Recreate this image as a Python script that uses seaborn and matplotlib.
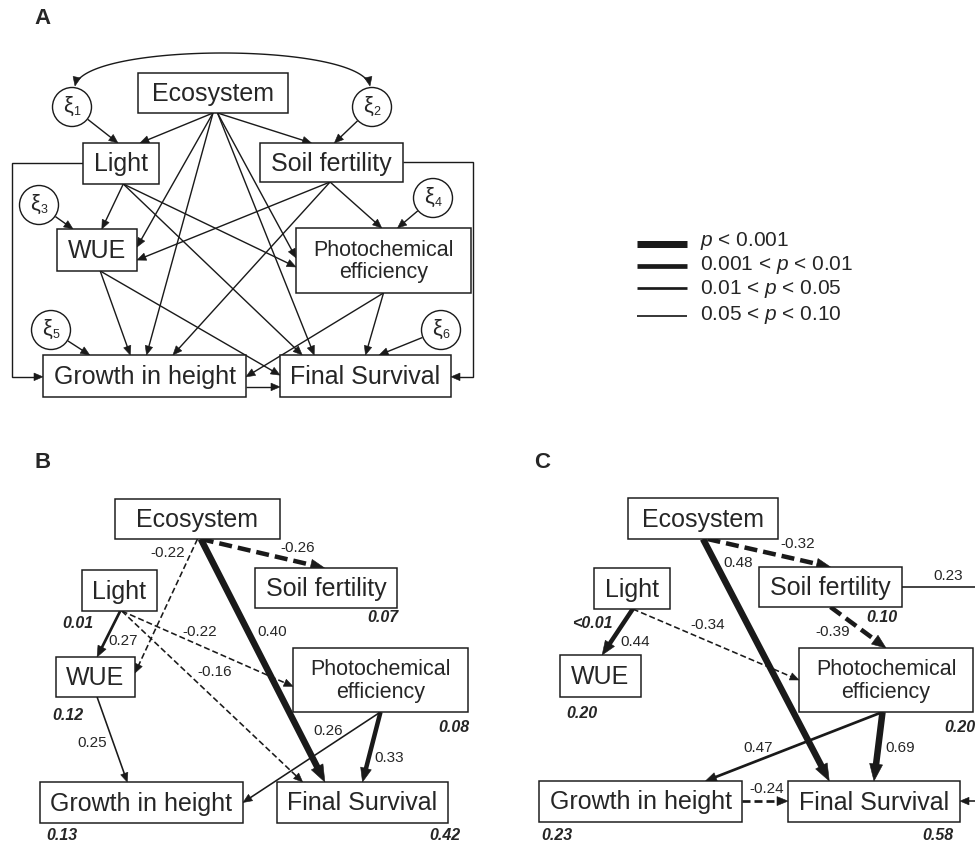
import numpy as np
import pandas as pd
import matplotlib
matplotlib.use("Agg")
import matplotlib.pyplot as plt
import seaborn as sns
from matplotlib.patches import Rectangle, Circle, Polygon

# ------------------------------------------------------------------ data
NODES = ["Ecosystem", "Light", "Soil fertility", "WUE",
         "Photochemical\nefficiency", "Growth in height", "Final Survival"]
ECO, LIG, SOI, WUE, PHO, GRO, FSU = NODES

LEGEND_LABELS = ["$p$ < 0.001", "0.001 < $p$ < 0.01",
                 "0.01 < $p$ < 0.05", "0.05 < $p$ < 0.10"]

# Panel A: hypothesised model
A_FROM = [ECO, ECO, ECO, ECO, ECO, ECO, LIG, LIG, LIG, SOI, SOI, SOI, WUE, WUE, PHO, PHO, GRO]
A_TO = [LIG, SOI, WUE, GRO, PHO, FSU, WUE, PHO, FSU, WUE, GRO, PHO, GRO, FSU, GRO, FSU, FSU]
A_LOOP_FROM = [LIG, SOI]
A_LOOP_TO = [GRO, FSU]
ERR_INDEX = ["1", "2", "3", "4", "5", "6"]
ERR_TARGET = [LIG, SOI, WUE, PHO, GRO, FSU]

# Panel B: fitted model, site 1
B_FROM = [ECO, ECO, ECO, LIG, LIG, LIG, WUE, PHO, PHO]
B_TO = [SOI, WUE, FSU, WUE, PHO, FSU, GRO, GRO, FSU]
B_COEF = [-0.26, -0.22, 0.40, 0.27, -0.22, -0.16, 0.25, 0.26, 0.33]
B_SIG = [1, 3, 0, 2, 3, 3, 3, 3, 1]          # index into LEGEND_LABELS
B_R2 = ["", "0.01", "0.07", "0.12", "0.08", "0.13", "0.42"]

# Panel C: fitted model, site 2
C_FROM = [ECO, ECO, LIG, LIG, SOI, PHO, PHO, GRO, SOI]
C_TO = [SOI, FSU, WUE, PHO, PHO, GRO, FSU, FSU, FSU]
C_COEF = [-0.32, 0.48, 0.44, -0.34, -0.39, 0.47, 0.69, -0.24, 0.23]
C_SIG = [1, 0, 1, 3, 1, 2, 0, 2, 3]
C_R2 = ["", "<0.01", "0.10", "0.20", "0.20", "0.23", "0.58"]

# ------------------------------------------------------------------ layout (pixels)
BOX = {
    "A": {ECO: (138, 73, 288, 113), LIG: (83, 143, 159, 184), SOI: (260, 143, 403, 182),
          WUE: (57, 229, 137, 271), PHO: (296, 228, 471, 293),
          GRO: (43, 355, 246, 397), FSU: (280, 355, 451, 397)},
    "B": {ECO: (115, 499, 280, 539), LIG: (82, 570, 157, 611), SOI: (255, 568, 397, 608),
          WUE: (56, 657, 135, 697), PHO: (293, 648, 468, 712),
          GRO: (40, 782, 243, 823), FSU: (277, 782, 448, 823)},
    "C": {ECO: (628, 498, 778, 539), LIG: (594, 568, 670, 609), SOI: (759, 567, 902, 607),
          WUE: (560, 655, 641, 697), PHO: (799, 648, 973, 712),
          GRO: (539, 781, 742, 822), FSU: (788, 781, 960, 822)},
}
NODE_FS = {ECO: 18, LIG: 18, SOI: 18, WUE: 18, PHO: 15.5, GRO: 18, FSU: 18}

A_ANCH = [(0.50, 1, 0.75, 0), (0.53, 1, 0.36, 0), (0.50, 1, 1, 0.43), (0.50, 1, 0.51, 0),
          (0.53, 1, 0, 0.46), (0.53, 1, 0.20, 0), (0.53, 1, 0.56, 0), (0.53, 1, 0, 0.60),
          (0.53, 1, 0.13, 0), (0.49, 1, 1, 0.74), (0.49, 1, 0.64, 0), (0.49, 1, 0.49, 0),
          (0.54, 1, 0.43, 0), (0.54, 1, 0, 0.48), (0.50, 1, 1, 0.52), (0.50, 1, 0.50, 0),
          (1, 0.76, 0, 0.76)]
A_LOOP_ANCH = [(0, 0.49, 0, 0.52, 12), (1, 0.49, 1, 0.52, 473)]
ERR_POS = [(72, 107), (372, 107), (39, 205), (433, 198), (51, 330), (441, 330)]
ERR_ANCH = [0.46, 0.52, 0.20, 0.58, 0.23, 0.58]

B_ANCH = [(0.52, 1, 0.49, 0), (0.50, 1, 1, 0.40), (0.52, 1, 0.28, 0), (0.51, 1, 0.52, 0),
          (0.53, 1, 0, 0.60), (0.53, 1, 0.15, 0), (0.52, 1, 0.43, 0), (0.50, 1, 1, 0.50),
          (0.50, 1, 0.50, 0)]
B_LAB = [(298, 548), (168, 553), (272, 632), (123, 641), (200, 632), (215, 672),
         (92, 743), (328, 731), (389, 758)]
B_R2_POS = [None, (78, 623), (383, 618), (68, 715), (454, 727), (62, 836), (445, 836)]

C_ANCH = [(0.53, 1, 0.50, 0), (0.50, 1, 0.24, 0), (0.51, 1, 0.52, 0), (0.51, 1, 0, 0.50),
          (0.50, 1, 0.50, 0), (0.48, 1, 0.82, 0), (0.48, 1, 0.50, 0), (1, 0.49, 0, 0.49),
          (1, 0.49, 1, 0.49)]
C_LOOP_X = 990
C_LAB = [(798, 544), (738, 563), (635, 642), (708, 625), (833, 632), (758, 748),
         (900, 748), (767, 789), (948, 576)]
C_R2_POS = [None, (592, 623), (882, 617), (582, 713), (960, 727), (557, 836), (938, 836)]

LW_PX = [6.5, 4.5, 2.7, 1.6]
HEAD = [(17, 6.5), (14, 5.5), (11, 4.5), (9, 3.8)]
DASH = [(14, 6), (13, 6), (8, 4), (6, 3)]
LEG_LINE_Y = [244, 266, 288, 316]
LEG_TEXT_Y = [241, 265, 289, 315]
LEG_LW = [7, 4.7, 2.7, 1.7]

# ------------------------------------------------------------------ style
sns.set_theme(style="white")
plt.rcParams['font.family'] = ['Liberation Sans', 'DejaVu Sans']
plt.rcParams['mathtext.fontset'] = 'custom'
plt.rcParams['mathtext.rm'] = 'Liberation Sans'
plt.rcParams['mathtext.it'] = 'Liberation Sans:italic'
PT = 0.72  # points per pixel at 100 dpi

fig = plt.figure(figsize=(9.75, 8.46), dpi=100)
ax = fig.add_axes([0, 0, 1, 1])
ax.set_xlim(0, 975)
ax.set_ylim(846, 0)
ax.axis("off")


def anchor(panel, node, fx, fy):
    x0, y0, x1, y1 = BOX[panel][node]
    return np.array([x0 + fx * (x1 - x0), y0 + fy * (y1 - y0)], float)


def head(tip, u, hl, hw):
    n = np.array([-u[1], u[0]])
    base = tip - u * hl
    ax.add_patch(Polygon([tip, base + n * hw, base - n * hw], closed=True,
                         fc='k', ec='k', lw=0.4, zorder=4))
    return base


def arrow(points, lw_px, hl, hw, dashed=False, dash=(6, 3)):
    pts = [np.array(p, float) for p in points]
    d = pts[-1] - pts[-2]
    u = d / np.hypot(*d)
    base = head(pts[-1], u, hl, hw)
    pts[-1] = base + u * 1.0
    xs = [p[0] for p in pts]
    ys = [p[1] for p in pts]
    lw = lw_px * PT
    if dashed:
        ls = (0, (dash[0] * PT / lw, dash[1] * PT / lw))
    else:
        ls = '-'
    ax.plot(xs, ys, color='k', lw=lw, ls=ls, solid_capstyle='butt',
            dash_capstyle='butt', solid_joinstyle='miter', zorder=3)


def draw_boxes(panel):
    for name in NODES:
        x0, y0, x1, y1 = BOX[panel][name]
        ax.add_patch(Rectangle((x0, y0), x1 - x0, y1 - y0, fc='white', ec='k',
                               lw=1.5 * PT, zorder=5, clip_on=True))
        ax.text((x0 + x1) / 2, (y0 + y1) / 2 + 1, name, ha='center', va='center',
                fontsize=NODE_FS[name], multialignment='center', linespacing=1.1,
                zorder=6, clip_on=True)


# ------------------------------------------------------------------ panel A
ax.text(34, 18, "A", fontsize=16, fontweight='bold', ha='left', va='center')
for f, t, (sx, sy, tx, ty) in zip(A_FROM, A_TO, A_ANCH):
    arrow([anchor("A", f, sx, sy), anchor("A", t, tx, ty)], 1.4, 9, 3.8)
for f, t, (sx, sy, tx, ty, rx) in zip(A_LOOP_FROM, A_LOOP_TO, A_LOOP_ANCH):
    p0 = anchor("A", f, sx, sy)
    p1 = anchor("A", t, tx, ty)
    arrow([p0, (rx, p0[1]), (rx, p1[1]), p1], 1.4, 9, 3.8)
for idx, tgt, (cx, cy), fx in zip(ERR_INDEX, ERR_TARGET, ERR_POS, ERR_ANCH):
    ax.add_patch(Circle((cx, cy), 19.5, fc='white', ec='k', lw=1.4 * PT, zorder=5))
    ax.text(cx - 4, cy - 1, "ξ", fontsize=16, ha='center', va='center', zorder=6)
    ax.text(cx + 5, cy + 5, idx, fontsize=9, ha='center', va='center', zorder=6)
    tgt_pt = anchor("A", tgt, fx, 0)
    d = tgt_pt - np.array([cx, cy])
    start = np.array([cx, cy]) + d / np.hypot(*d) * 20
    arrow([start, tgt_pt], 1.4, 9, 3.8)

# covariance arc between xi1 and xi2
P0, P1, P2, P3 = np.array([75, 86.]), np.array([84, 42.]), np.array([361, 42.]), np.array([370, 86.])
ts = np.linspace(0, 1, 80)
curve = (((1 - ts) ** 3)[:, None] * P0 + (3 * (1 - ts) ** 2 * ts)[:, None] * P1
         + (3 * (1 - ts) * ts ** 2)[:, None] * P2 + (ts ** 3)[:, None] * P3)
head(P0, (P0 - P1) / np.hypot(*(P0 - P1)), 9, 3.8)
head(P3, (P3 - P2) / np.hypot(*(P3 - P2)), 9, 3.8)
ax.plot(curve[4:-4, 0], curve[4:-4, 1], color='k', lw=1.4 * PT, zorder=3)
draw_boxes("A")

# ------------------------------------------------------------------ legend
for lab, ly, ty, w in zip(LEGEND_LABELS, LEG_LINE_Y, LEG_TEXT_Y, LEG_LW):
    df = pd.DataFrame({"x": [637, 687], "y": [ly, ly]})
    sns.lineplot(data=df, x="x", y="y", ax=ax, color='k', linewidth=w * PT,
                 legend=False, solid_capstyle='butt')
    ax.text(700, ty, lab, fontsize=15, ha='left', va='center')


# ------------------------------------------------------------------ panels B & C
def fitted(panel, frm, to, coef, sig, anch, labs, r2, r2pos, letter, letter_pos):
    ax.text(letter_pos[0], letter_pos[1], letter, fontsize=16, fontweight='bold',
            ha='left', va='center')
    for f, t, c, s, (sx, sy, tx, ty), lp in zip(frm, to, coef, sig, anch, labs):
        p0 = anchor(panel, f, sx, sy)
        p1 = anchor(panel, t, tx, ty)
        pts = [p0, p1]
        if panel == "C" and f == SOI and t == FSU:
            pts = [p0, (C_LOOP_X, p0[1]), (C_LOOP_X, p1[1]), p1]
        arrow(pts, LW_PX[s], *HEAD[s], dashed=c < 0, dash=DASH[s])
        ax.text(lp[0], lp[1], f"{c:.2f}", fontsize=11, ha='center', va='center',
                zorder=7)
    draw_boxes(panel)
    for v, pos in zip(r2, r2pos):
        if pos is None:
            continue
        ax.text(pos[0], pos[1], v, fontsize=11.5, fontweight='bold', style='italic',
                ha='center', va='center', clip_on=True)


fitted("B", B_FROM, B_TO, B_COEF, B_SIG, B_ANCH, B_LAB, B_R2, B_R2_POS, "B", (35, 463))
fitted("C", C_FROM, C_TO, C_COEF, C_SIG, C_ANCH, C_LAB, C_R2, C_R2_POS, "C", (534, 462))

ax.set_xlim(0, 975)
ax.set_ylim(846, 0)
ax.axis("off")
fig.savefig("out.png", dpi=100, facecolor='white')
